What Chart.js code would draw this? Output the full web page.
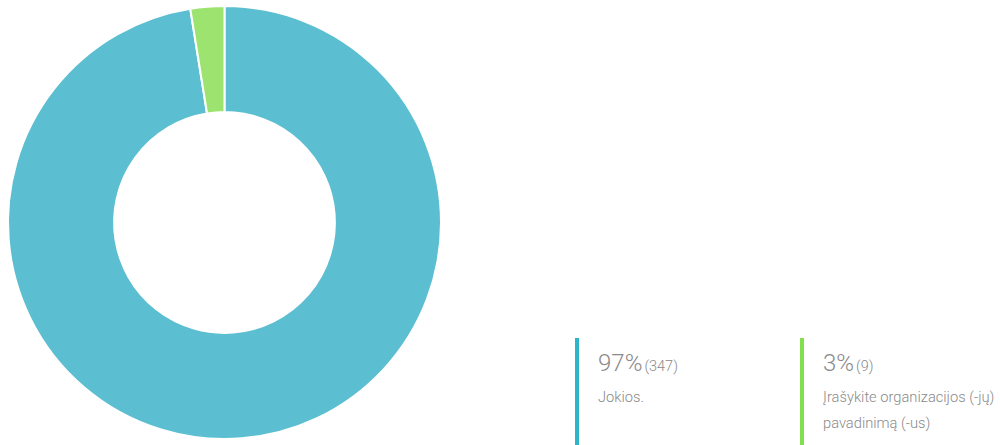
<!DOCTYPE html>
<html>
<head>
<meta charset="utf-8">
<script src="https://cdn.jsdelivr.net/npm/chart.js@4"></script>
<style>
  html, body { margin: 0; padding: 0; background: #fff; }
  body { width: 1000px; height: 445px; position: relative; overflow: hidden; font-family: Roboto, "Noto Sans", sans-serif; }
  #wrap { position: absolute; left: 0; top: 0; width: 449px; height: 445px; }
  .leg { position: absolute; top: 338px; height: 107px; border-left: 4px solid; padding-left: 19px; color: #8a8a8a; }
  .pct { font-size: 24px; font-weight: 300; line-height: 26px; margin-top: 12px; color: #8a8a8a; }
  .cnt { font-size: 14.5px; font-weight: 300; margin-left: 2px; }
  .lab { font-size: 14.7px; font-weight: 300; line-height: 26px; margin-top: 4px; }
</style>
</head>
<body>
<div id="wrap"><canvas id="c"></canvas></div>
<div id="legend"></div>
<script>
const labels = ["Jokios.", "Įrašykite organizacijos (-jų) pavadinimą (-us)"];
const counts = [347, 9];
const percents = [97, 3];
const sliceColors = ["#5bbed1", "#9de36f"];
const barColors = ["#2db6c9", "#82e04f"];

const legendLefts = [575, 800];
const legendWidths = [200, 200];
const leg = document.getElementById('legend');
labels.forEach((l, i) => {
  const d = document.createElement('div');
  d.className = 'leg';
  d.style.left = legendLefts[i] + 'px';
  d.style.width = legendWidths[i] + 'px';
  d.style.borderColor = barColors[i];
  d.innerHTML = '<div class="pct">' + percents[i] + '%<span class="cnt">(' + counts[i] + ')</span></div><div class="lab">' + l + '</div>';
  leg.appendChild(d);
});

new Chart(document.getElementById('c'), {
  type: 'doughnut',
  data: {
    labels: labels,
    datasets: [{
      data: counts,
      backgroundColor: sliceColors,
      borderColor: '#ffffff',
      borderWidth: 2,
      hoverOffset: 0
    }]
  },
  options: {
    responsive: true,
    maintainAspectRatio: false,
    animation: false,
    cutout: '51%',
    layout: { padding: 5 },
    plugins: { legend: { display: false }, tooltip: { enabled: false } }
  }
});
</script>
</body>
</html>
